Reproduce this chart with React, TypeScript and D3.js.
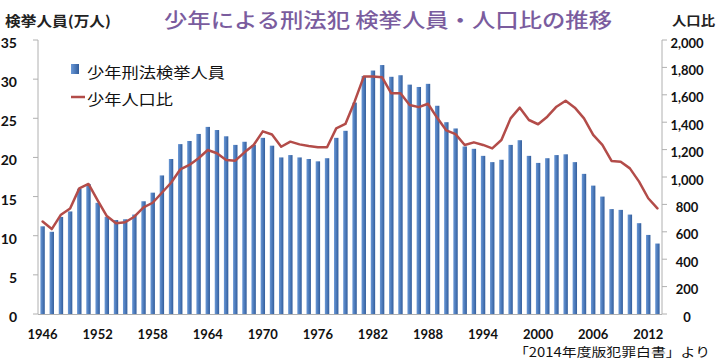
import React from 'react';
import * as d3 from 'd3';

const years = [
  1946, 1947, 1948, 1949, 1950, 1951, 1952, 1953, 1954, 1955, 1956, 1957, 1958, 1959,
  1960, 1961, 1962, 1963, 1964, 1965, 1966, 1967, 1968, 1969, 1970, 1971, 1972, 1973,
  1974, 1975, 1976, 1977, 1978, 1979, 1980, 1981, 1982, 1983, 1984, 1985, 1986, 1987,
  1988, 1989, 1990, 1991, 1992, 1993, 1994, 1995, 1996, 1997, 1998, 1999, 2000, 2001,
  2002, 2003, 2004, 2005, 2006, 2007, 2008, 2009, 2010, 2011, 2012, 2013,
];

// 少年刑法検挙人員 (万人)
const arrests = [
  11.2, 10.5, 12.4, 13.1, 16.0, 16.6, 14.2, 12.4, 12.0, 12.1, 12.7, 14.4, 15.5, 17.7,
  19.8, 21.7, 22.1, 23.0, 23.9, 23.5, 22.7, 21.6, 22.0, 21.6, 22.5, 21.5, 20.0, 20.3,
  20.0, 19.8, 19.5, 19.9, 22.5, 23.4, 27.0, 30.4, 31.1, 31.8, 30.3, 30.5, 29.3, 29.0,
  29.4, 26.6, 24.5, 23.7, 21.4, 21.1, 20.2, 19.4, 19.7, 21.6, 22.2, 20.2, 19.3, 19.9,
  20.3, 20.4, 19.4, 17.9, 16.4, 15.0, 13.4, 13.3, 12.7, 11.6, 10.1, 9.0,
];

// 少年人口比
const ratio = [
  675, 620, 725, 770, 917, 949, 830, 715, 662, 670, 710, 778, 812, 885,
  958, 1055, 1088, 1137, 1197, 1173, 1124, 1119, 1180, 1234, 1333, 1310, 1221, 1258,
  1238, 1226, 1217, 1217, 1355, 1387, 1550, 1733, 1733, 1728, 1611, 1611, 1526, 1510,
  1535, 1432, 1340, 1313, 1234, 1253, 1234, 1209, 1270, 1428, 1506, 1416, 1385, 1440,
  1513, 1557, 1506, 1428, 1307, 1234, 1117, 1112, 1063, 966, 845, 771,
];

const leftTicks = [0, 5, 10, 15, 20, 25, 30, 35];
const rightTicks = [0, 200, 400, 600, 800, 1000, 1200, 1400, 1600, 1800, 2000];
const xTickYears = [1946, 1952, 1958, 1964, 1970, 1976, 1982, 1988, 1994, 2000, 2006, 2012];

const title = '少年による刑法犯 検挙人員・人口比の推移';
const leftTitle = '検挙人員(万人)';
const rightTitle = '人口比';
const legendBar = '少年刑法検挙人員';
const legendLine = '少年人口比';
const source = '「2014年度版犯罪白書」より';

const W = 720;
const H = 360;
const PL = 38;
const PR = 662;
const PT = 40;
const PB = 314;

const CJK = '"Noto Sans CJK JP", "Noto Sans", sans-serif';
const NUM = 'Lato, "Open Sans", "Liberation Sans", sans-serif';
const LINE_COLOR = '#b34c49';
const AXIS_COLOR = '#b0b0b0';

export default function App() {
  const x = d3
    .scaleBand<number>()
    .domain(years)
    .range([PL, PR])
    .paddingInner(0.52)
    .paddingOuter(0.26);
  const yL = d3.scaleLinear().domain([0, 35]).range([PB, PT]);
  const yR = d3.scaleLinear().domain([0, 2000]).range([PB, PT]);
  const cx = (yr: number) => (x(yr) as number) + x.bandwidth() / 2;

  const linePath = d3
    .line<number>()
    .x((_, i) => cx(years[i]))
    .y((d) => yR(d))(ratio) as string;

  return (
    <svg
      width={W}
      height={H}
      style={{ position: 'absolute', left: 0, top: 0, background: '#fff' }}
    >
      <defs>
        <linearGradient id="barGrad" x1="0" y1="0" x2="1" y2="0">
          <stop offset="0%" stopColor="#6a98d6" />
          <stop offset="55%" stopColor="#4a78b8" />
          <stop offset="100%" stopColor="#335d9a" />
        </linearGradient>
      </defs>
      <rect x={0} y={0} width={W} height={H} fill="#fff" />

      {/* Title */}
      <text
        x={164}
        y={19}
        fontFamily={CJK}
        fontSize={20}
        fontWeight={500}
        fill="#7a5c9e"
        dominantBaseline="central"
        textLength={448}
        lengthAdjust="spacingAndGlyphs"
      >
        {title}
      </text>
      <text
        x={5}
        y={19.5}
        fontFamily={CJK}
        fontSize={14}
        fontWeight="bold"
        fill="#222"
        dominantBaseline="central"
        textLength={106}
        lengthAdjust="spacingAndGlyphs"
      >
        {leftTitle}
      </text>
      <text
        x={672}
        y={19.5}
        fontFamily={CJK}
        fontSize={13}
        fontWeight="bold"
        fill="#222"
        dominantBaseline="central"
        textLength={43}
        lengthAdjust="spacingAndGlyphs"
      >
        {rightTitle}
      </text>

      {/* Bars */}
      {years.map((yr, i) => (
        <rect
          key={yr}
          x={x(yr)}
          y={yL(arrests[i])}
          width={x.bandwidth()}
          height={PB - yL(arrests[i])}
          fill="url(#barGrad)"
        />
      ))}

      {/* Axes */}
      <line x1={PL} y1={PT} x2={PL} y2={PB} stroke={AXIS_COLOR} strokeWidth={1} />
      <line x1={PR} y1={PT} x2={PR} y2={PB} stroke={AXIS_COLOR} strokeWidth={1} />
      <line x1={PL} y1={PB + 0.5} x2={PR} y2={PB + 0.5} stroke={AXIS_COLOR} strokeWidth={1} />
      {leftTicks.map((t) => (
        <g key={'l' + t}>
          <line x1={PL - 5} x2={PL} y1={yL(t)} y2={yL(t)} stroke={AXIS_COLOR} />
          <text
            x={17}
            y={yL(t) + 2.5}
            textAnchor="end"
            dominantBaseline="central"
            fontFamily={NUM}
            fontWeight="bold"
            fontSize={14}
            fill="#111"
          >
            {t}
          </text>
        </g>
      ))}
      {rightTicks.map((t) => (
        <g key={'r' + t}>
          <line x1={PR} x2={PR + 5} y1={yR(t)} y2={yR(t)} stroke={AXIS_COLOR} />
          <text
            x={687}
            y={yR(t) + 2.5}
            textAnchor="middle"
            dominantBaseline="central"
            fontFamily={NUM}
            fontWeight="bold"
            fontSize={13}
            fill="#111"
          >
            {d3.format(',')(t)}
          </text>
        </g>
      ))}
      {xTickYears.map((yr) => (
        <text
          key={'x' + yr}
          x={cx(yr)}
          y={334}
          textAnchor="middle"
          dominantBaseline="central"
          fontFamily={NUM}
          fontWeight="bold"
          fontSize={13}
          fill="#111"
        >
          {yr}
        </text>
      ))}

      {/* Line */}
      <path
        d={linePath}
        fill="none"
        stroke={LINE_COLOR}
        strokeWidth={2.5}
        strokeLinejoin="round"
        strokeLinecap="round"
      />

      {/* Legend */}
      <rect x={71} y={64} width={8} height={10} fill="url(#barGrad)" />
      <text
        x={87}
        y={71}
        fontFamily={CJK}
        fontSize={15}
        fill="#111"
        dominantBaseline="central"
        textLength={138}
        lengthAdjust="spacingAndGlyphs"
      >
        {legendBar}
      </text>
      <line x1={71} x2={85} y1={97} y2={97} stroke={LINE_COLOR} strokeWidth={2.5} />
      <text
        x={87}
        y={98}
        fontFamily={CJK}
        fontSize={15}
        fill="#111"
        dominantBaseline="central"
        textLength={86}
        lengthAdjust="spacingAndGlyphs"
      >
        {legendLine}
      </text>

      {/* Source */}
      <text
        x={514}
        y={351}
        fontFamily={CJK}
        fontSize={12.5}
        fill="#111"
        dominantBaseline="central"
        textLength={196}
        lengthAdjust="spacingAndGlyphs"
      >
        {source}
      </text>
    </svg>
  );
}
